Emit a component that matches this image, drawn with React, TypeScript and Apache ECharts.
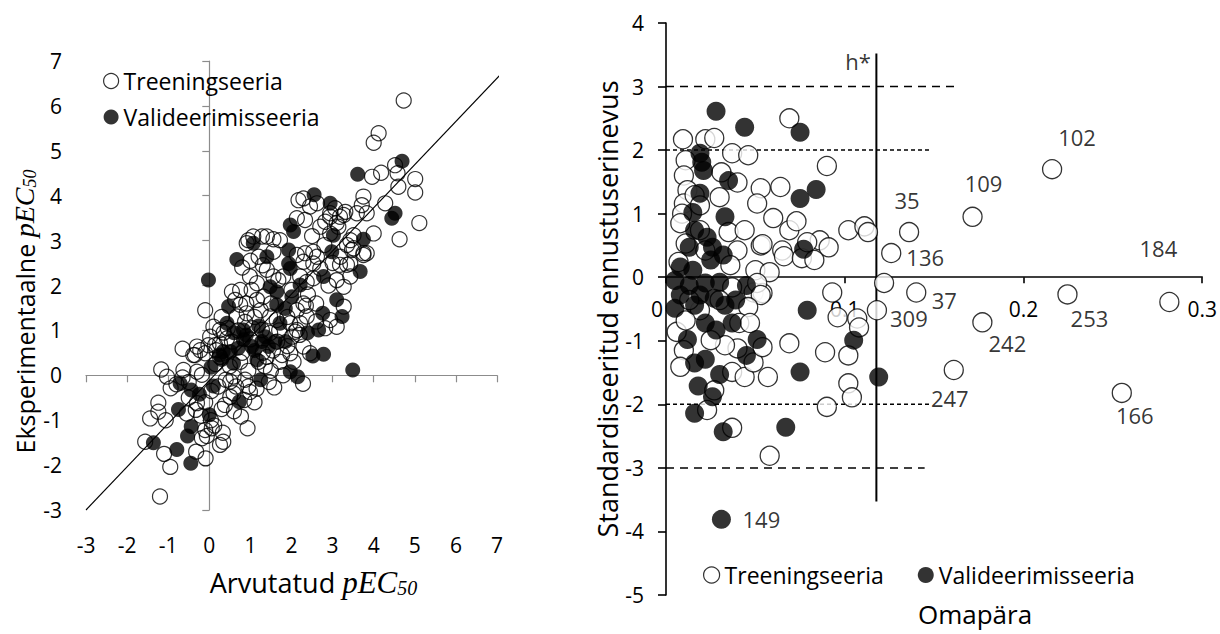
import React, { useEffect, useRef } from "react";
import * as echarts from "echarts";

// ---------- LEFT PANEL DATA (Arvutatud vs Eksperimentaalne pEC50) ----------
const leftTrain: number[][] = [
  [-1.2, -2.7], [-0.95, -2.04], [-1.1, -1.75], [-1.56, -1.48], [-1.44, -0.96], [-1.24, -0.81],
  [-1.24, -0.61], [-1.06, -1.0], [-1.17, 0.13], [-1.03, -0.03], [-0.94, -0.29], [-0.65, 0.59],
  [-0.63, 0.12], [-0.35, 0.45], [-0.22, 0.56], [-0.02, 0.67], [-0.3, 0.08], [-0.18, 0.01],
  [-0.33, -0.77], [-0.3, -0.62], [-0.1, -1.22], [0.06, -1.18], [-0.18, -1.4], [-0.06, -1.35],
  [-0.32, -1.7], [-0.09, -1.85], [0.26, -1.55], [0.34, -1.48], [0.33, -1.28], [0.04, -1.0],
  [0.12, -1.12], [0.22, -0.25], [0.38, -0.66], [0.51, -0.48], [0.59, -0.4], [0.77, -0.92],
  [0.93, -1.18], [0.51, -0.14], [0.59, -0.03], [0.87, -0.1], [0.95, -0.25], [0.99, -0.37],
  [1.58, -0.27], [2.28, -0.19], [1.77, 0.45], [1.72, 0.3], [1.4, 0.41], [2.82, 1.05],
  [2.09, 0.97], [0.26, 0.71], [0.43, 0.82], [0.17, 0.56], [0.26, 0.41], [-0.5, -0.5],
  [-0.65, -0.05], [-0.8, -0.2], [-0.55, -0.85],
  [2.29, 3.94], [2.62, 3.83], [2.45, 3.76], [3.75, 3.98], [3.71, 3.79], [2.94, 3.61],
  [3.27, 3.57], [3.1, 3.39], [2.33, 3.46], [2.13, 3.5], [2.7, 3.31], [3.59, 3.61], [4.0, 3.16],
  [3.43, 3.01], [3.51, 2.83], [3.75, 2.68], [0.95, 3.01], [1.28, 3.09], [1.56, 3.03],
  [1.72, 3.01], [1.2, 2.64], [1.56, 2.75], [2.13, 2.68], [2.33, 2.72], [2.53, 2.75],
  [2.62, 2.64], [2.29, 2.53], [2.53, 2.49], [2.7, 2.38], [3.19, 2.64], [3.35, 2.46],
  [3.43, 2.2], [1.4, 2.35], [1.56, 2.2], [1.68, 2.12], [0.99, 2.2], [1.16, 2.05], [1.03, 1.9],
  [0.55, 1.86], [0.75, 1.9], [0.63, 1.68], [-0.1, 1.45], [0.75, 1.57], [0.91, 1.38],
  [1.16, 1.68], [1.32, 1.75], [2.21, 2.2], [2.37, 2.08], [2.53, 2.16], [3.1, 2.12],
  [3.27, 1.97], [2.29, 1.6], [2.13, 1.45], [2.37, 1.31], [2.21, 1.16], [2.94, 1.23],
  [3.1, 1.08], [3.27, 1.53], [0.1, 1.08], [0.26, 1.01], [0.02, 0.86], [0.14, 0.67],
  [0.67, 1.31], [0.87, 1.19], [1.48, 1.31], [1.64, 1.23], [1.97, 1.16], [2.13, 1.01],
  [2.01, 0.86], [1.28, 1.01], [1.48, 0.94], [-0.3, 0.64], [-0.1, 0.49], [-0.39, 0.45],
  [2.29, 0.64], [2.45, 0.49], [1.97, 0.49],
  [4.73, 6.12], [4.12, 5.39], [4.0, 5.18], [4.52, 4.68], [4.58, 4.5], [3.96, 4.42],
  [4.18, 4.51], [5.01, 4.37], [5.01, 4.07], [4.6, 4.2], [4.28, 3.83], [3.83, 3.61],
  [5.11, 3.39], [4.63, 3.03], [3.75, 2.72], [3.83, 2.72], [3.06, 3.72], [3.18, 3.53],
  [3.31, 3.64], [2.94, 3.53], [3.51, 3.12], [3.35, 2.9], [3.47, 2.79], [3.14, 3.31],
  [2.94, 3.16], [2.82, 3.42], [3.18, 2.46], [3.43, 2.49], [0.91, 2.94], [1.07, 3.09],
  [1.4, 3.09], [2.17, 3.9],
  [0.5, 0.2], [0.8, 0.5], [1.0, 0.8], [1.2, 0.3], [1.5, 0.1], [1.3, 0.5], [0.7, 1.0],
  [0.4, -0.1], [1.7, 1.0], [1.9, 1.3], [2.4, 1.8], [2.6, 1.6], [1.8, 2.2], [0.9, 1.6],
  [0.3, 1.3], [1.1, 1.3], [1.5, 1.6], [2.0, 1.9], [2.8, 2.9], [2.5, 3.1], [3.0, 2.5],
  [2.9, 2.0], [2.6, 1.2], [1.8, 0.0], [1.1, -0.6], [0.6, -0.8], [-0.5, -0.15], [-0.1, -0.6],
  [0.3, -0.75], [2.05, 0.3],
  [0.35, 0.95], [0.55, 0.75], [0.75, 0.3], [0.95, 0.1], [1.05, 1.05], [1.25, 1.45],
  [1.35, 0.2], [1.55, 0.55], [0.15, 0.25], [0.45, 1.05], [0.65, -0.25], [0.85, -0.55],
  [1.15, -0.3], [1.45, -0.15], [1.65, 0.75], [1.9, 0.65], [2.2, 0.9], [2.35, 1.55],
  [0.05, -0.35], [-0.2, -0.9], [1.0, 2.55], [0.8, 2.4], [1.3, 2.45],
];

const leftValid: number[][] = [
  [-1.36, -1.5], [-0.79, -1.65], [-0.45, -1.96], [-0.53, -1.35], [-0.44, -1.14], [-0.75, -0.76],
  [0.0, -0.88], [-0.71, -0.18], [-0.44, -0.33], [-0.24, -0.42], [0.1, -0.24], [0.73, -0.59],
  [0.04, 0.18], [0.59, 0.27], [1.16, 0.34], [1.25, -0.1], [1.6, 0.75], [1.97, 0.08],
  [2.15, -0.03], [2.52, 0.43], [3.49, 0.12], [2.39, 0.95],
  [2.55, 4.02], [2.94, 3.83], [1.97, 3.35], [2.05, 3.2], [3.02, 3.12], [3.75, 3.03],
  [1.07, 2.94], [1.4, 2.64], [0.67, 2.58], [1.93, 2.79], [1.93, 2.49], [1.97, 2.38],
  [2.98, 2.75], [3.67, 2.31], [-0.02, 2.12], [2.78, 2.2], [2.21, 2.01], [1.48, 1.97],
  [1.64, 1.86], [2.01, 1.75], [3.1, 1.68], [0.47, 1.53], [1.64, 1.57], [1.85, 1.49],
  [2.76, 1.38], [3.23, 1.31], [0.43, 1.16], [0.83, 1.01], [1.72, 1.16], [2.66, 1.01],
  [1.36, 0.86], [0.83, 0.79], [1.03, 0.64], [1.28, 0.75], [1.44, 0.64], [1.85, 0.75],
  [0.34, 0.53], [0.51, 0.53], [2.78, 0.47],
  [4.69, 4.77], [3.61, 4.48], [4.52, 3.61], [4.44, 3.5],
  [0.25, 0.45], [0.7, 0.6], [1.1, 0.55], [0.9, 0.9], [0.6, 0.95], [0.3, 0.35], [1.2, 1.1],
];

const identityLine: number[][] = [[-3, -3], [7.4, 7]];

// ---------- RIGHT PANEL DATA (Omapära vs standardiseeritud ennustuserinevus) ----------
const rightTrain: number[][] = [
  [0.0095, 2.17], [0.022, 2.17], [0.027, 2.19], [0.069, 2.5], [0.037, 1.95], [0.046, 1.92],
  [0.011, 1.84], [0.01, 1.6], [0.031, 1.65], [0.04, 1.49], [0.09, 1.75], [0.053, 1.4],
  [0.064, 1.42], [0.051, 1.16], [0.012, 1.37], [0.03, 1.26], [0.01, 1.16], [0.009, 1.0],
  [0.06, 0.93], [0.008, 0.85], [0.035, 0.71], [0.011, 0.53], [0.04, 0.42], [0.053, 0.5],
  [0.065, 0.42], [0.036, 0.19], [0.05, 0.11], [0.058, 0.08], [0.069, 0.74], [0.073, 0.88],
  [0.102, 0.74], [0.111, 0.8], [0.113, 0.71], [0.086, 0.58], [0.091, 0.47], [0.054, 0.52],
  [0.066, 0.33], [0.076, 0.3], [0.083, 0.27], [0.079, 0.55], [0.044, 0.74], [0.019, 0.74],
  [0.022, 0.42], [0.007, 0.24], [0.016, 1.29], [0.019, 1.13],
  [0.049, -0.24], [0.054, -0.25], [0.093, -0.24], [0.122, -0.09], [0.051, -0.09],
  [0.053, -0.28], [0.037, -0.16], [0.046, -0.47], [0.041, -0.72], [0.096, -0.63],
  [0.107, -0.65], [0.108, -0.79], [0.069, -1.04], [0.089, -1.18], [0.102, -1.23],
  [0.102, -1.67], [0.104, -1.89], [0.09, -2.04], [0.006, -0.86], [0.01, -1.15],
  [0.008, -1.41], [0.037, -1.49], [0.044, -1.57], [0.057, -1.57], [0.047, -0.72],
  [0.049, -1.34], [0.04, -1.12], [0.054, -1.1], [0.027, -1.78], [0.023, -2.09],
  [0.037, -2.37], [0.058, -2.81], [0.03, -0.36], [0.019, -0.52], [0.013, -0.36],
  [0.033, -1.07], [0.025, -0.99], [0.011, -0.68],
];

const rightNamedIds: string[] = ["102", "109", "35", "136", "184", "253", "37", "309", "242", "247", "166"];
const rightNamedX: number[] = [0.216, 0.1715, 0.136, 0.126, 0.2816, 0.2246, 0.14, 0.118, 0.177, 0.161, 0.255];
const rightNamedY: number[] = [1.7, 0.95, 0.71, 0.38, -0.39, -0.27, -0.24, -0.52, -0.71, -1.46, -1.82];

const rightValid: number[][] = [
  [0.028, 2.61], [0.044, 2.36], [0.075, 2.28], [0.019, 1.95], [0.02, 1.81], [0.021, 1.68],
  [0.035, 1.52], [0.084, 1.38], [0.075, 1.24], [0.019, 1.32], [0.015, 1.02], [0.033, 0.95],
  [0.016, 0.74], [0.023, 0.63], [0.013, 0.47], [0.026, 0.47], [0.077, 0.44], [0.032, 0.35],
  [0.008, 0.16], [0.015, 0.11], [0.025, 0.27], [0.045, -0.13], [0.005, -0.05], [0.013, -0.13],
  [0.022, -0.09], [0.03, -0.08], [0.008, -0.28], [0.019, -0.28], [0.027, -0.33], [0.039, -0.36],
  [0.005, -0.49], [0.016, -0.44], [0.033, -0.44], [0.079, -0.52], [0.022, -0.72], [0.028, -0.83],
  [0.037, -0.72], [0.012, -0.98], [0.051, -0.98], [0.105, -0.99], [0.045, -1.23], [0.016, -1.35],
  [0.022, -1.29], [0.075, -1.49], [0.03, -1.53], [0.119, -1.57], [0.018, -1.71], [0.026, -1.88],
  [0.016, -2.14], [0.032, -2.43], [0.067, -2.36],
];
const validNamedIds: string[] = ["149"];
const validNamedX: number[] = [0.031];
const validNamedY: number[] = [-3.81];

// warning limits (±2 dotted, ±3 dashed) and their right ends, and the leverage limit h*
const limitLevels: number[] = [3, 2, -2, -3];
const limitEnds: number[] = [0.163, 0.1486, 0.1486, 0.1447];
const hStar = 0.1177;
const hStarSpan: number[] = [-3.53, 3.52];

// label placement (pixel offsets, layout only)
const labelOffsets: Record<string, number[]> = {
  "102": [25, -32], "109": [11, -34], "35": [-2, -32], "136": [34, 4], "184": [-11, -54],
  "253": [22, 24], "37": [28, 8], "309": [32, 8], "242": [25, 21], "247": [-4, 28],
  "166": [13, 22], "149": [40, 0],
};

const FONT = "Open Sans";
const SERIF = "Liberation Serif";

export default function App() {
  const ref = useRef<HTMLDivElement>(null);
  useEffect(() => {
    const chart = echarts.init(ref.current!, null, { renderer: "svg" });
    const grayAxis = { show: true, lineStyle: { color: "#8c8c8c", width: 1.2 } };
    const blackAxis = { show: true, lineStyle: { color: "#000", width: 1.6 } };
    const tickLbl = { fontFamily: FONT, fontSize: 21, color: "#000" };

    const namedTrain = rightNamedIds.map((id, i) => ({
      name: id,
      value: [rightNamedX[i], rightNamedY[i]],
      label: { offset: labelOffsets[id] },
    }));
    const namedValid = validNamedIds.map((id, i) => ({
      name: id,
      value: [validNamedX[i], validNamedY[i]],
      label: { offset: labelOffsets[id] },
    }));
    const pointLabel = {
      show: true,
      position: "inside",
      formatter: (p: any) => p.name,
      fontFamily: FONT,
      fontSize: 22,
      color: "#000",
    };

    const limitSeries = limitLevels.map((lv, i) => ({
      type: "line",
      xAxisIndex: 1,
      yAxisIndex: 1,
      data: [[0, lv], [limitEnds[i], lv]],
      symbol: "none",
      silent: true,
      z: 1,
      lineStyle: {
        color: "#000",
        width: 1.5,
        type: Math.abs(lv) === 3 ? [8, 6] : [4, 3],
      },
    }));

    const legendData = [
      { name: "Treeningseeria", itemStyle: { color: "#fff", borderColor: "#000", borderWidth: 1.2 } },
      { name: "Valideerimisseeria", itemStyle: { color: "#000", borderWidth: 0 } },
    ];
    const legendText = { fontFamily: FONT, fontSize: 23, color: "#000", lineHeight: 26 };

    const option: any = {
      animation: false,
      backgroundColor: "#fff",
      textStyle: { fontFamily: FONT },
      grid: [
        { left: 86, top: 61, width: 411, height: 449 },
        { left: 666, top: 23, width: 537, height: 572 },
      ],
      legend: [
        {
          orient: "vertical",
          left: 103,
          top: 68,
          padding: 0,
          itemWidth: 15,
          itemHeight: 15,
          itemGap: 10,
          icon: "circle",
          selectedMode: false,
          textStyle: legendText,
          data: legendData,
        },
        {
          orient: "horizontal",
          left: 703,
          top: 562,
          padding: 0,
          itemWidth: 16,
          itemHeight: 16,
          itemGap: 34,
          icon: "circle",
          selectedMode: false,
          textStyle: legendText,
          data: legendData,
        },
      ],
      xAxis: [
        {
          type: "value",
          gridIndex: 0,
          min: -3,
          max: 7,
          interval: 1,
          axisLine: grayAxis,
          axisTick: { show: true, length: 7, lineStyle: { color: "#8c8c8c", width: 1.2 } },
          axisLabel: { ...tickLbl, margin: 24 },
          splitLine: { show: false },
          name: "{a|Arvutatud }{b|pEC}{c|50}",
          nameLocation: "middle",
          nameGap: 56,
          nameTextStyle: {
            rich: {
              a: { fontFamily: FONT, fontSize: 27, color: "#000", padding: [0, 0, 0, 44] },
              b: { fontFamily: SERIF, fontStyle: "italic", fontSize: 31, color: "#000" },
              c: { fontFamily: SERIF, fontStyle: "italic", fontSize: 20, color: "#000", padding: [12, 0, 0, 0] },
            },
          },
        },
        {
          type: "value",
          gridIndex: 1,
          min: 0,
          max: 0.3,
          interval: 0.1,
          axisLine: { ...blackAxis, onZero: true },
          axisTick: { show: true, length: 6, lineStyle: { color: "#000", width: 1.6 } },
          axisLabel: {
            ...tickLbl,
            margin: -297,
            formatter: (v: number) => (v === 0 ? "{z|0}" : String(v)),
            rich: { z: { fontFamily: FONT, fontSize: 21, color: "#000", padding: [0, 18, 0, 0] } },
          },
          splitLine: { show: false },
        },
      ],
      yAxis: [
        {
          type: "value",
          gridIndex: 0,
          min: -3,
          max: 7,
          interval: 1,
          axisLine: grayAxis,
          axisTick: { show: true, length: 7, lineStyle: { color: "#8c8c8c", width: 1.2 } },
          axisLabel: { ...tickLbl, margin: 24 },
          splitLine: { show: false },
          name: "{a|Eksperimentaalne }{b|pEC}{c|50}",
          nameLocation: "middle",
          nameGap: 46,
          nameTextStyle: {
            rich: {
              a: { fontFamily: FONT, fontSize: 25, color: "#000" },
              b: { fontFamily: SERIF, fontStyle: "italic", fontSize: 28, color: "#000" },
              c: { fontFamily: SERIF, fontStyle: "italic", fontSize: 18, color: "#000", padding: [11, 52, 0, 0] },
            },
          },
        },
        {
          type: "value",
          gridIndex: 1,
          min: -5,
          max: 4,
          interval: 1,
          axisLine: blackAxis,
          axisTick: { show: true, length: 8, lineStyle: { color: "#000", width: 1.6 } },
          axisLabel: { ...tickLbl, margin: 22 },
          splitLine: { show: false },
          name: "Standardiseeritud ennustuserinevus",
          nameLocation: "middle",
          nameGap: 38,
          nameTextStyle: { fontFamily: FONT, fontSize: 27, color: "#000" },
        },
      ],
      graphic: [
        {
          type: "text",
          x: 975,
          y: 614,
          style: {
            text: "Omapära",
            fontFamily: FONT,
            fontSize: 26,
            fill: "#000",
            textAlign: "center",
            textVerticalAlign: "middle",
          },
        },
      ],
      series: [
        {
          type: "line",
          xAxisIndex: 0,
          yAxisIndex: 0,
          data: identityLine,
          symbol: "none",
          clip: false,
          silent: true,
          z: 1,
          lineStyle: { color: "#000", width: 1.1 },
        },
        {
          name: "Treeningseeria",
          type: "scatter",
          xAxisIndex: 0,
          yAxisIndex: 0,
          data: leftTrain,
          symbolSize: 15,
          z: 2,
          itemStyle: { color: "rgba(255,255,255,0)", borderColor: "#000", borderWidth: 1.2 },
        },
        {
          name: "Valideerimisseeria",
          type: "scatter",
          xAxisIndex: 0,
          yAxisIndex: 0,
          data: leftValid,
          symbolSize: 15,
          z: 3,
          itemStyle: { color: "#000" },
        },
        ...limitSeries,
        {
          type: "line",
          xAxisIndex: 1,
          yAxisIndex: 1,
          data: [[hStar, hStarSpan[0]], [hStar, hStarSpan[1]]],
          symbol: "none",
          silent: true,
          z: 1,
          lineStyle: { color: "#000", width: 2 },
        },
        {
          type: "scatter",
          xAxisIndex: 1,
          yAxisIndex: 1,
          data: [{ name: "h*", value: [hStar, hStarSpan[1]] }],
          symbolSize: 1,
          silent: true,
          itemStyle: { color: "rgba(0,0,0,0)" },
          label: {
            show: true,
            position: "left",
            distance: 5,
            offset: [0, 7],
            formatter: "h*",
            fontFamily: FONT,
            fontSize: 22,
            color: "#000",
          },
        },
        {
          name: "Treeningseeria",
          type: "scatter",
          xAxisIndex: 1,
          yAxisIndex: 1,
          data: rightTrain,
          symbolSize: 19,
          z: 2,
          itemStyle: { color: "#fff", borderColor: "#000", borderWidth: 1.3 },
        },
        {
          name: "Treeningseeria",
          type: "scatter",
          xAxisIndex: 1,
          yAxisIndex: 1,
          data: namedTrain,
          symbolSize: 19,
          z: 2,
          itemStyle: { color: "#fff", borderColor: "#000", borderWidth: 1.3 },
          label: pointLabel,
        },
        {
          name: "Valideerimisseeria",
          type: "scatter",
          xAxisIndex: 1,
          yAxisIndex: 1,
          data: rightValid,
          symbolSize: 19,
          z: 3,
          itemStyle: { color: "#000" },
        },
        {
          name: "Valideerimisseeria",
          type: "scatter",
          xAxisIndex: 1,
          yAxisIndex: 1,
          data: namedValid,
          symbolSize: 19,
          z: 3,
          itemStyle: { color: "#000" },
          label: pointLabel,
        },
      ],
    };
    chart.setOption(option);
    return () => chart.dispose();
  }, []);
  return (
    <div
      ref={ref}
      style={{ position: "absolute", left: 0, top: 0, width: 1220, height: 634, background: "#fff" }}
    />
  );
}
